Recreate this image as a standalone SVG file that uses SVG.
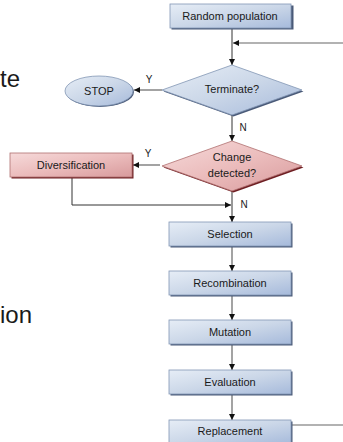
<svg xmlns="http://www.w3.org/2000/svg" width="343" height="442" viewBox="0 0 343 442">
<style>
text{font-family:"Liberation Sans",Arial,sans-serif;fill:#1a1a1a}
.lbl{font-size:11px;text-anchor:middle;dominant-baseline:central}
.yn{font-size:10px;text-anchor:middle;dominant-baseline:central}
.big{font-size:24px;text-anchor:end}
.bb{fill:url(#gb);stroke:#8296b4;stroke-width:0.8}
.bs{fill:#4a5a78}
.rb{fill:url(#gr);stroke:#b07070;stroke-width:0.8}
.rs{fill:#6e1e22}
.c{fill:none;stroke:#333;stroke-width:1}
.cg{fill:none;stroke:#666;stroke-width:1.2}
</style>
<defs>
<linearGradient id="gb" x1="0" y1="0" x2="1" y2="1">
<stop offset="0" stop-color="#e6edf6"/><stop offset="0.5" stop-color="#cbd7e8"/><stop offset="1" stop-color="#a6badb"/>
</linearGradient>
<linearGradient id="gr" x1="0" y1="0" x2="1" y2="1">
<stop offset="0" stop-color="#f6dada"/><stop offset="0.5" stop-color="#ebbcbc"/><stop offset="1" stop-color="#d89a9c"/>
</linearGradient>
<marker id="a" viewBox="0 0 6 6" refX="6" refY="3" markerWidth="6" markerHeight="6" markerUnits="userSpaceOnUse" orient="auto">
<path d="M0,0 L6,3 L0,6 Z" fill="#111"/>
</marker>
</defs>

<text class="big" x="20" y="87">te</text>
<text class="big" x="32" y="323">ion</text>

<g id="connectors">
<path class="c" d="M232,29 V65" marker-end="url(#a)"/>
<path class="cg" d="M291,425 H352 V43 H233" marker-end="url(#a)"/>
<path class="cg" d="M162,90 H134" marker-end="url(#a)"/>
<path class="c" d="M232,115 V141" marker-end="url(#a)"/>
<path class="cg" d="M160,165 H133" marker-end="url(#a)"/>
<path class="c" d="M72,178 V205 H231" marker-end="url(#a)"/>
<path class="c" d="M232,191 V222" marker-end="url(#a)"/>
<path class="cg" d="M232,247 V271" marker-end="url(#a)"/>
<path class="cg" d="M232,296 V320" marker-end="url(#a)"/>
<path class="cg" d="M232,345 V370" marker-end="url(#a)"/>
<path class="cg" d="M232,395 V420" marker-end="url(#a)"/>
<text class="yn" x="149" y="79">Y</text>
<text class="yn" x="243" y="127">N</text>
<text class="yn" x="148" y="153">Y</text>
<text class="yn" x="244" y="204">N</text>
</g>

<g id="random-population">
<rect class="bs" x="171.5" y="5.5" width="122" height="24"/>
<rect class="bb" x="170" y="4" width="121" height="24"/>
<text class="lbl" x="230" y="16">Random population</text>
</g>

<g id="terminate">
<polygon class="bs" points="233.5,66.5 303.5,91.5 233.5,116.5 163.5,91.5"/>
<polygon class="bb" points="232,65 302,90 232,115 162,90"/>
<text class="lbl" x="232" y="89">Terminate?</text>
</g>

<g id="stop">
<ellipse class="bs" cx="100" cy="92" rx="34" ry="15"/>
<ellipse class="bb" cx="99" cy="91" rx="34" ry="15"/>
<text class="lbl" x="99" y="91">STOP</text>
</g>

<g id="change-detected">
<polygon class="rs" points="233.5,142.5 303.5,167.5 233.5,192.5 163.5,167.5"/>
<polygon class="rb" points="232,141 302,166 232,191 162,166"/>
<text class="lbl" x="232" y="157">Change</text>
<text class="lbl" x="232" y="173">detected?</text>
</g>

<g id="diversification">
<rect class="rs" x="11.5" y="154.5" width="122" height="24"/>
<rect class="rb" x="10" y="153" width="122" height="24"/>
<text class="lbl" x="71" y="165">Diversification</text>
</g>

<g id="selection">
<rect class="bs" x="170.5" y="223.5" width="122" height="24"/>
<rect class="bb" x="169" y="222" width="122" height="24"/>
<text class="lbl" x="230" y="234">Selection</text>
</g>

<g id="recombination">
<rect class="bs" x="170.5" y="272.5" width="122" height="24"/>
<rect class="bb" x="169" y="271" width="122" height="24"/>
<text class="lbl" x="230" y="283">Recombination</text>
</g>

<g id="mutation">
<rect class="bs" x="170.5" y="321.5" width="122" height="24"/>
<rect class="bb" x="169" y="320" width="122" height="24"/>
<text class="lbl" x="230" y="332">Mutation</text>
</g>

<g id="evaluation">
<rect class="bs" x="170.5" y="371.5" width="122" height="24"/>
<rect class="bb" x="169" y="370" width="122" height="24"/>
<text class="lbl" x="230" y="382">Evaluation</text>
</g>

<g id="replacement">
<rect class="bs" x="170.5" y="421.5" width="122" height="24"/>
<rect class="bb" x="169" y="420" width="122" height="24"/>
<text class="lbl" x="230" y="431">Replacement</text>
</g>
</svg>
